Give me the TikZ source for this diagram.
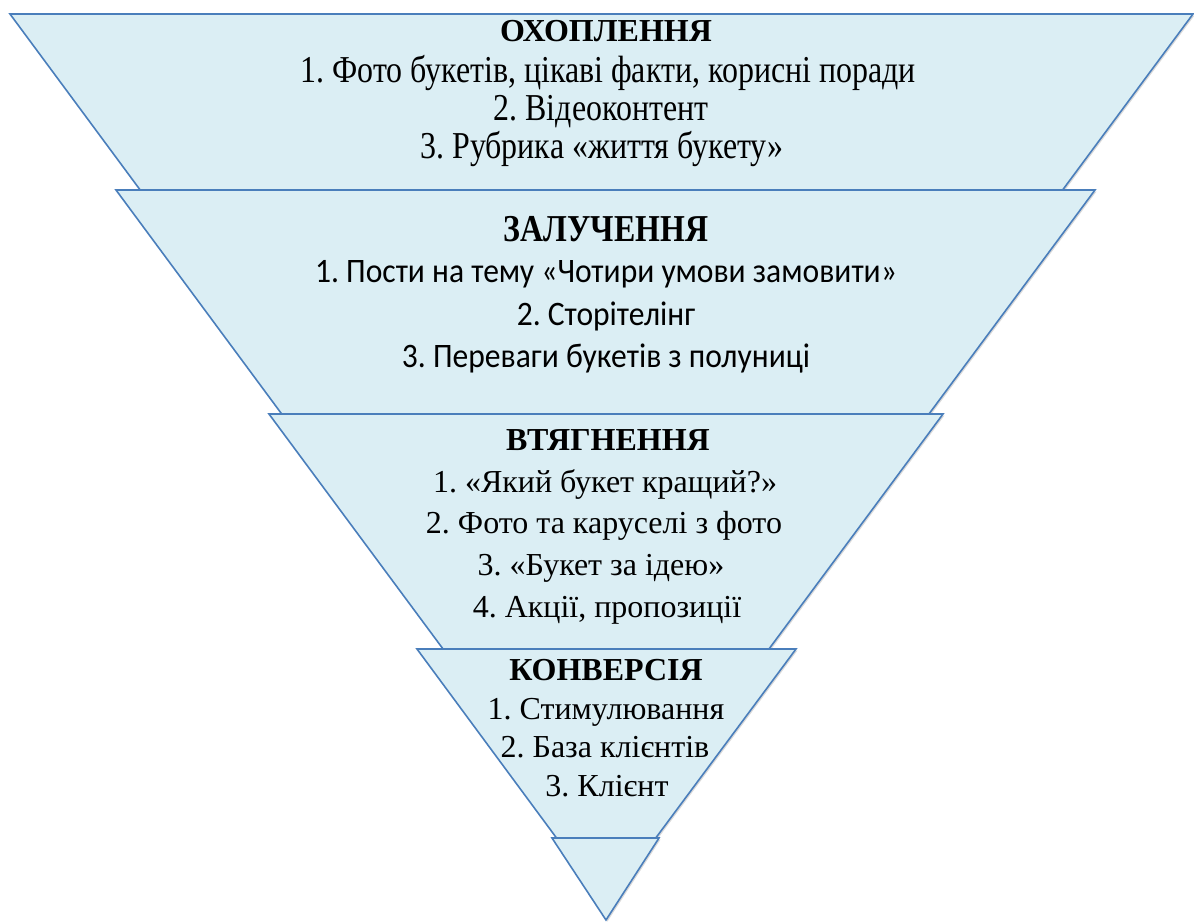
\documentclass[tikz,border=0pt]{standalone}
\usepackage{fontspec}
\setmainfont{Liberation Serif}
\newfontfamily\tallserif[FakeStretch=0.84]{Liberation Serif}
\newfontfamily\tallsans[FakeStretch=0.92]{Carlito}
\usetikzlibrary{shadows}
\definecolor{FunnelFill}{RGB}{219, 238, 244}
\definecolor{FunnelEdge}{RGB}{74, 126, 187}
\tikzset{
  tri/.style={draw=FunnelEdge, line width=1.6pt, fill=FunnelFill, line join=miter,
    drop shadow={shadow xshift=1.5pt, shadow yshift=-1.5pt, opacity=0.15, fill=black}},
  head/.style={anchor=base, inner sep=0pt, font=\fontsize{32}{38}\selectfont\bfseries},
  tallhead/.style={anchor=base, inner sep=0pt, font=\fontsize{38}{44}\selectfont\tallserif\bfseries},
  item/.style={anchor=base, inner sep=0pt, font=\fontsize{32}{38}\selectfont},
  tallitem/.style={anchor=base, inner sep=0pt, font=\fontsize{38}{44}\selectfont\tallserif},
  itemsans/.style={anchor=base, inner sep=0pt, font=\fontsize{34.3}{40}\selectfont\tallsans},
}
\frenchspacing
\begin{document}
\begin{tikzpicture}[x=1pt, y=-1pt]
  \useasboundingbox (0,0) rectangle (1194,921);
  % funnel levels, each lower one laid over the previous
  \draw[tri] (10,14) -- (1193,14) -- (601,813) -- cycle;
  \draw[tri] (116,190) -- (1095,190) -- (605,851) -- cycle;
  \draw[tri] (269,414) -- (943,414) -- (606,869) -- cycle;
  \draw[tri] (417,649) -- (796,649) -- (606,905) -- cycle;
  \draw[tri] (552,838) -- (659,838) -- (606,920) -- cycle;

  % level 1
  \node[head] (reach) at (606,41) {ОХОПЛЕННЯ};
  \node[tallitem] (reach1) at (608,82) {1. Фото букетів, цікаві факти, корисні поради};
  \node[tallitem] (reach2) at (601,120) {2. Відеоконтент};
  \node[tallitem] (reach3) at (602,158) {3. Рубрика «життя букету»};

  % level 2
  \node[tallhead] (engage) at (606,241) {ЗАЛУЧЕННЯ};
  \node[itemsans] (engage1) at (606,282) {1. Пости на тему «Чотири умови замовити»};
  \node[itemsans] (engage2) at (606,325) {2. Сторітелінг};
  \node[itemsans] (engage3) at (606,367) {3. Переваги букетів з полуниці};

  % level 3
  \node[head] (pull) at (608,450) {ВТЯГНЕННЯ};
  \node[item] (pull1) at (605,492) {1. «Який букет кращий?»};
  \node[item] (pull2) at (604,533) {2. Фото та каруселі з фото};
  \node[item] (pull3) at (601,575) {3. «Букет за ідею»};
  \node[item] (pull4) at (607,617) {4. Акції, пропозиції};

  % level 4
  \node[head] (conv) at (606,680) {КОНВЕРСІЯ};
  \node[item] (conv1) at (606,719) {1. Стимулювання};
  \node[item] (conv2) at (605,757) {2. База клієнтів};
  \node[item] (conv3) at (607,796) {3. Клієнт};
\end{tikzpicture}
\end{document}
